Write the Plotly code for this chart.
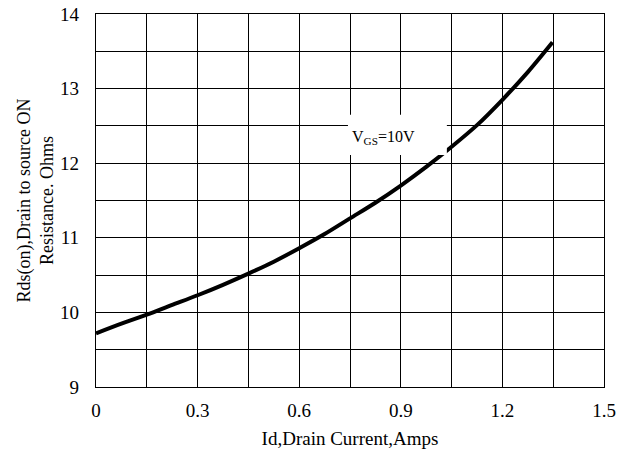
import plotly.graph_objects as go

# Data
drain_current = [0, 0.075, 0.15, 0.225, 0.3, 0.375, 0.45, 0.525, 0.6, 0.675,
                 0.75, 0.825, 0.9, 0.975, 1.05, 1.125, 1.2, 1.275, 1.348]
rds_on = [9.72, 9.85, 9.97, 10.10, 10.23, 10.37, 10.52, 10.68, 10.86, 11.05,
          11.26, 11.47, 11.70, 11.95, 12.22, 12.51, 12.85, 13.22, 13.62]
x_ticks = [0, 0.3, 0.6, 0.9, 1.2, 1.5]
y_ticks = [9, 10, 11, 12, 13, 14]
label_text = "V<sub>GS</sub>=10V"

FONT = "Liberation Serif"

fig = go.Figure()
fig.add_trace(go.Scatter(
    x=drain_current, y=rds_on, mode="lines",
    line=dict(color="black", width=4, shape="spline", smoothing=0.8),
    showlegend=False, hoverinfo="skip"))

# white box behind the label (covers grid and curve)
fig.add_shape(type="rect", xref="x", yref="y", x0=0.744, x1=1.036, y0=12.11, y1=12.65,
              fillcolor="white", line=dict(width=0), layer="above")
fig.add_annotation(x=0.75, y=12.34, xref="x", yref="y", text=label_text,
                   showarrow=False, xanchor="left", yanchor="middle",
                   font=dict(family=FONT, size=16, color="black"))

axis_common = dict(
    showline=True, mirror=True, linecolor="black", linewidth=1.3,
    showgrid=True, gridcolor="black", gridwidth=1.3,
    zeroline=False, ticks="", color="black",
    tickfont=dict(family=FONT, size=19, color="black"),
)

fig.update_xaxes(
    range=[0, 1.5], tickvals=x_ticks, ticktext=[str(v) for v in x_ticks],
    minor=dict(dtick=0.15, showgrid=True, gridcolor="black", gridwidth=1.3, ticks=""),
    title=dict(text="Id,Drain Current,Amps", font=dict(family=FONT, size=19, color="black"),
               standoff=11),
    ticklabelstandoff=6,
    **axis_common)
fig.update_yaxes(
    range=[9, 14], tickvals=y_ticks,
    minor=dict(dtick=0.5, showgrid=True, gridcolor="black", gridwidth=1.3, ticks=""),
    title=dict(text="Rds(on),Drain to source ON<br>Resistance. Ohms",
               font=dict(family=FONT, size=18, color="black"), standoff=1),
    ticklabelstandoff=12,
    **axis_common)

fig.update_layout(
    width=627, height=457,
    margin=dict(l=96, r=23, t=14, b=70, autoexpand=False),
    paper_bgcolor="white", plot_bgcolor="white",
    font=dict(family=FONT, color="black"),
)

fig.write_html("out.html", config={"displayModeBar": False},
               post_script="document.body.style.margin='0';")
